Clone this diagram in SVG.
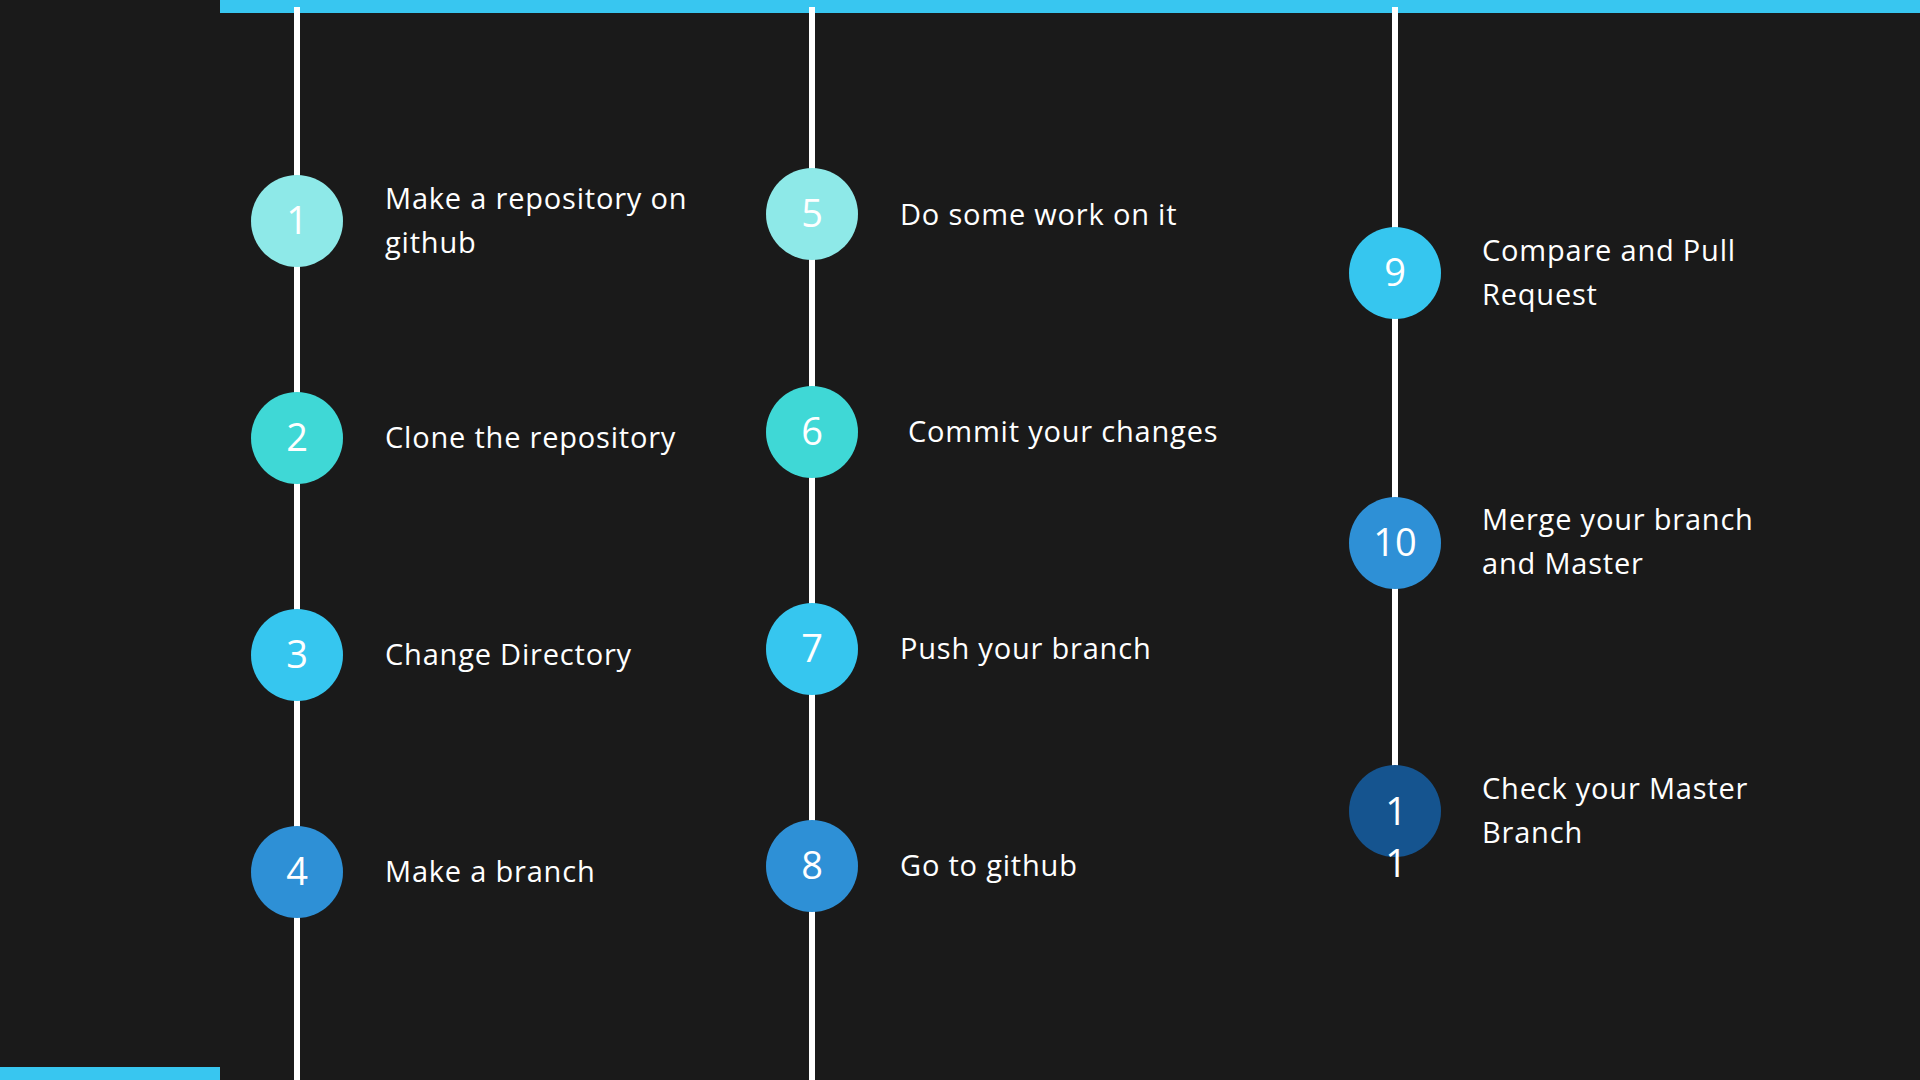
<svg xmlns="http://www.w3.org/2000/svg" width="1920" height="1080" viewBox="0 0 1920 1080">
<style>
.lbl{font-family:"Open Sans","Liberation Sans",sans-serif;font-size:29px;fill:#ffffff;letter-spacing:0.8px}
.num{font-family:"Open Sans","Liberation Sans",sans-serif;font-size:38px;fill:#ffffff;text-anchor:middle}
.ln{stroke:#ffffff;stroke-width:6;fill:none}
.c1{fill:#8ee9e8}.c2{fill:#3fd8d6}.c3{fill:#36c6ef}.c4{fill:#2e90d6}.c5{fill:#15548f}
</style>
<rect x="0" y="0" width="1920" height="1080" fill="#1a1a1a"/>
<rect x="220" y="0" width="1700" height="13" fill="#38c6f0"/>
<rect x="0" y="1067" width="220" height="13" fill="#38c6f0"/>
<g id="connectors">
<line class="ln" x1="297" y1="7" x2="297" y2="1080"/>
<line class="ln" x1="812" y1="7" x2="812" y2="1080"/>
<line class="ln" x1="1395" y1="7" x2="1395" y2="770"/>
</g>
<g id="step1"><circle class="c1" cx="297" cy="221" r="46"/><text class="num" x="297" y="234">1</text><text class="lbl" x="385" y="209">Make a repository on</text><text class="lbl" x="385" y="253">github</text></g>
<g id="step2"><circle class="c2" cx="297" cy="438" r="46"/><text class="num" x="297" y="451">2</text><text class="lbl" x="385" y="448">Clone the repository</text></g>
<g id="step3"><circle class="c3" cx="297" cy="655" r="46"/><text class="num" x="297" y="668">3</text><text class="lbl" x="385" y="665">Change Directory</text></g>
<g id="step4"><circle class="c4" cx="297" cy="872" r="46"/><text class="num" x="297" y="885">4</text><text class="lbl" x="385" y="882">Make a branch</text></g>
<g id="step5"><circle class="c1" cx="812" cy="214" r="46"/><text class="num" x="812" y="227">5</text><text class="lbl" x="900" y="225">Do some work on it</text></g>
<g id="step6"><circle class="c2" cx="812" cy="432" r="46"/><text class="num" x="812" y="445">6</text><text class="lbl" x="908" y="442">Commit your changes</text></g>
<g id="step7"><circle class="c3" cx="812" cy="649" r="46"/><text class="num" x="812" y="662">7</text><text class="lbl" x="900" y="659">Push your branch</text></g>
<g id="step8"><circle class="c4" cx="812" cy="866" r="46"/><text class="num" x="812" y="879">8</text><text class="lbl" x="900" y="876">Go to github</text></g>
<g id="step9"><circle class="c3" cx="1395" cy="273" r="46"/><text class="num" x="1395" y="286">9</text><text class="lbl" x="1482" y="261">Compare and Pull</text><text class="lbl" x="1482" y="305">Request</text></g>
<g id="step10"><circle class="c4" cx="1395" cy="543" r="46"/><text class="num" x="1395" y="556">10</text><text class="lbl" x="1482" y="530">Merge your branch</text><text class="lbl" x="1482" y="574">and Master</text></g>
<g id="step11"><circle class="c5" cx="1395" cy="811" r="46"/><text class="num" x="1396" y="825">1</text><text class="num" x="1396" y="877">1</text><text class="lbl" x="1482" y="799">Check your Master</text><text class="lbl" x="1482" y="843">Branch</text></g>
</svg>
